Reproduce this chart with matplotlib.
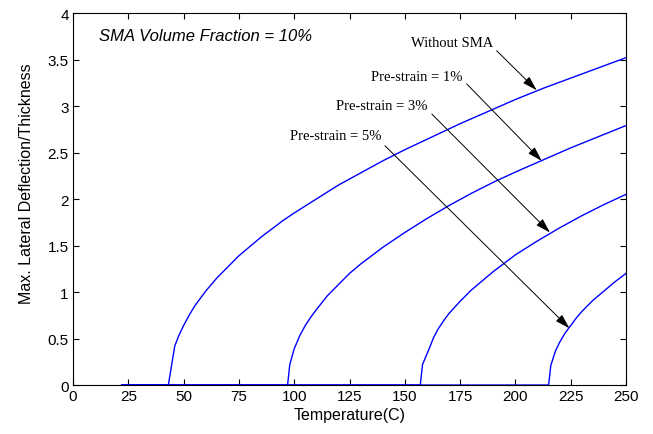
import matplotlib
matplotlib.use('Agg')
import matplotlib.pyplot as plt

# values
t_none = [22, 43.1, 46, 48, 50, 52.5, 55, 57.5, 60, 65, 70, 75, 80, 85, 90, 95, 100, 110,
          120, 130, 140, 150, 162.5, 175, 187.5, 200, 212.5, 225, 237.5, 250]
d_none = [0, 0, 0.42, 0.54, 0.64, 0.75, 0.85, 0.93, 1.01, 1.15, 1.27, 1.39, 1.49, 1.59, 1.68,
          1.77, 1.85, 2.00, 2.15, 2.28, 2.41, 2.53, 2.67, 2.81, 2.94, 3.07, 3.19, 3.30, 3.41, 3.52]

t_1 = [22, 97, 98, 100, 102.5, 105, 107.5, 110, 115, 120, 125, 130, 140, 150, 160, 170, 180,
       190, 200, 212.5, 225, 237.5, 250]
d_1 = [0, 0, 0.22, 0.39, 0.53, 0.64, 0.73, 0.81, 0.96, 1.08, 1.20, 1.30, 1.48, 1.64, 1.79,
       1.93, 2.06, 2.18, 2.29, 2.42, 2.55, 2.67, 2.79]

t_3 = [22, 157, 158, 161, 163, 165, 167.5, 170, 175, 180, 185, 190, 200, 210, 220, 230, 240, 250]
d_3 = [0, 0, 0.22, 0.39, 0.51, 0.60, 0.69, 0.77, 0.90, 1.02, 1.12, 1.22, 1.40, 1.55, 1.69,
       1.82, 1.94, 2.05]

t_5 = [22, 215, 216, 218, 220, 222.5, 225, 227.5, 230, 235, 240, 245, 250]
d_5 = [0, 0, 0.21, 0.36, 0.46, 0.56, 0.64, 0.72, 0.79, 0.91, 1.01, 1.11, 1.20]

labels = ['Without SMA', 'Pre-strain = 1%', 'Pre-strain = 3%', 'Pre-strain = 5%']
label_pos = [(171.6, 3.685), (155.2, 3.32), (139.5, 3.003), (118.7, 2.68)]
arrow_tail = [(191.5, 3.595), (178.0, 3.237), (162.2, 2.914), (141.0, 2.573)]
arrow_tip = [(209.6, 3.17), (211.9, 2.41), (215.6, 1.64), (224.4, 0.61)]

plt.rcParams['font.family'] = 'Liberation Sans'

fig = plt.figure(figsize=(6.53, 4.35), dpi=100)
ax = fig.add_axes([0.1118, 0.1126, 0.8469, 0.8552])

for t, d in [(t_none, d_none), (t_1, d_1), (t_3, d_3), (t_5, d_5)]:
    ax.plot(t, d, color='#0000ff', lw=1.0)

for lab, (tx, ty), (ax0, ay0), (ax1, ay1) in zip(labels, label_pos, arrow_tail, arrow_tip):
    ax.text(tx, ty, lab, family='Liberation Serif', fontsize=10.5, ha='center', va='center')
    ax.annotate('', xy=(ax1, ay1), xytext=(ax0, ay0),
                arrowprops=dict(arrowstyle='-|>,head_length=1.0,head_width=0.3',
                                color='black', lw=0.7, mutation_scale=9,
                                shrinkA=0, shrinkB=0))

ax.text(11.8, 3.76, 'SMA Volume Fraction = 10%', fontsize=12, style='italic',
        ha='left', va='center')

ax.set_xlim(0, 250)
ax.set_ylim(0, 4)
ax.set_xticks(range(0, 251, 25))
ax.set_yticks([0, 0.5, 1, 1.5, 2, 2.5, 3, 3.5, 4])
ax.set_yticklabels(['0', '0.5', '1', '1.5', '2', '2.5', '3', '3.5', '4'])
ax.tick_params(direction='in', top=True, right=True, length=4, width=0.8,
               labelsize=11, pad=3)
for s in ax.spines.values():
    s.set_linewidth(0.8)

ax.set_xlabel('Temperature(C)', fontsize=11.5, labelpad=3)
ax.set_ylabel('Max. Lateral Deflection/Thickness', fontsize=11.5)
ax.yaxis.set_label_coords(-0.07, 0.545)

fig.savefig('out.png', dpi=100)
